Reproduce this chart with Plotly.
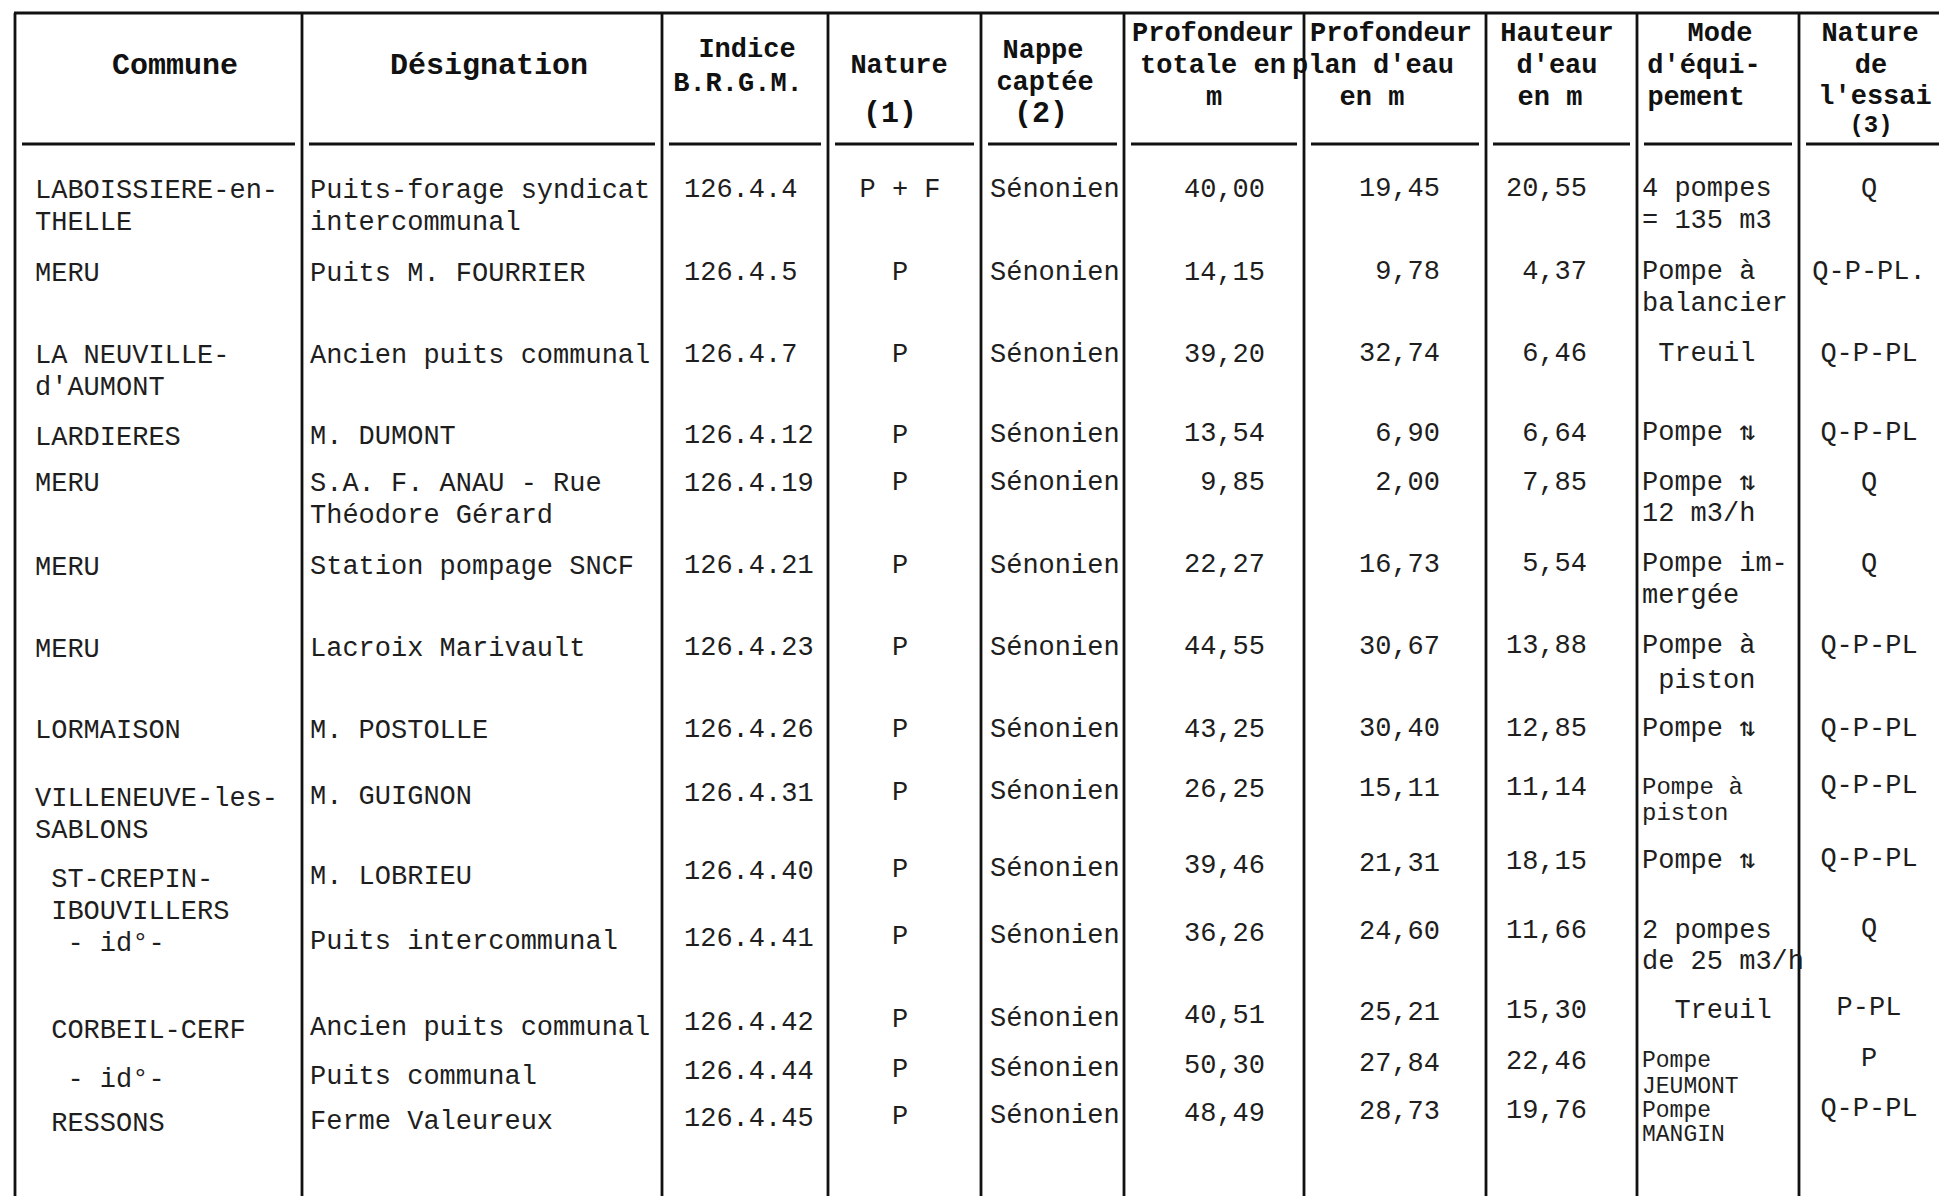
import plotly.graph_objects as go

# ---------------- data ----------------
commune = ["LABOISSIERE-en-<br>THELLE", "MERU", "LA NEUVILLE-<br>d'AUMONT", "LARDIERES",
           "MERU", "MERU", "MERU", "LORMAISON", "VILLENEUVE-les-<br>SABLONS",
           "\u00a0ST-CREPIN-<br>\u00a0IBOUVILLERS", "\u00a0\u00a0- id°-", "\u00a0CORBEIL-CERF",
           "\u00a0\u00a0- id°-", "\u00a0RESSONS"]
designation = ["Puits-forage syndicat<br>intercommunal", "Puits M. FOURRIER",
               "Ancien puits communal", "M. DUMONT", "S.A. F. ANAU - Rue<br>Théodore Gérard",
               "Station pompage SNCF", "Lacroix Marivault", "M. POSTOLLE", "M. GUIGNON",
               "M. LOBRIEU", "Puits intercommunal", "Ancien puits communal",
               "Puits communal", "Ferme Valeureux"]
indice = ["126.4.4", "126.4.5", "126.4.7", "126.4.12", "126.4.19", "126.4.21", "126.4.23",
          "126.4.26", "126.4.31", "126.4.40", "126.4.41", "126.4.42", "126.4.44", "126.4.45"]
nature = ["P + F", "P", "P", "P", "P", "P", "P", "P", "P", "P", "P", "P", "P", "P"]
nappe = ["Sénonien", "Sénonien", "Sénonien", "Sénonien", "Sénonien", "Sénonien", "Sénonien",
         "Sénonien", "Sénonien", "Sénonien", "Sénonien", "Sénonien", "Sénonien", "Sénonien"]
prof_totale = ["40,00", "14,15", "39,20", "13,54", "9,85", "22,27", "44,55", "43,25",
               "26,25", "39,46", "36,26", "40,51", "50,30", "48,49"]
prof_plan = ["19,45", "9,78", "32,74", "6,90", "2,00", "16,73", "30,67", "30,40",
             "15,11", "21,31", "24,60", "25,21", "27,84", "28,73"]
hauteur = ["20,55", "4,37", "6,46", "6,64", "7,85", "5,54", "13,88", "12,85",
           "11,14", "18,15", "11,66", "15,30", "22,46", "19,76"]
mode = ["4 pompes<br>= 135 m3", "Pompe à<br>balancier", "\u00a0Treuil", "Pompe ⇅",
        "Pompe ⇅<br>12 m3/h", "Pompe im-<br>mergée", "Pompe à<br>\u00a0piston", "Pompe ⇅",
        "Pompe à<br>piston", "Pompe ⇅", "2 pompes<br>de 25 m3/h", "\u00a0\u00a0Treuil",
        "Pompe<br>JEUMONT", "Pompe<br>MANGIN"]
essai = ["Q", "Q-P-PL.", "Q-P-PL", "Q-P-PL", "Q", "Q", "Q-P-PL", "Q-P-PL", "Q-P-PL",
         "Q-P-PL", "Q", "P-PL", "P", "Q-P-PL"]

header_lines = ["Commune", "Désignation", "Indice", "B.R.G.M.", "Nature", "(1)",
                "Nappe", "captée", "(2)", "Profondeur", "totale en", "m",
                "Profondeur", "plan d'eau", "en m", "Hauteur", "d'eau", "en m",
                "Mode", "d'équi-", "pement", "Nature", "de", "l'essai", "(3)"]

# ---------------- layout (positions / styles) ----------------
W, H = 1947, 1196
OFF = 8  # page body margin: data coordinate == screen pixel
col_edges = [15, 302, 662, 828, 981, 1124, 1304, 1486, 1637, 1799]
top_y = 13
head_sep_y = 144

# centre of first text line for each row, measured at two x positions (scan is skewed)
row_y_a = [191, 274, 356, 437, 484, 567, 649, 731, 796, 875, 941, 1026, 1075, 1121]
row_y_b = [189, 272, 354, 433, 483, 564, 646, 729, 786, 859, 929, 1008, 1059, 1109]
xa, xb = 470, 1870
line_gap = 32
mode_gap = [32, 32, 32, 32, 31, 32, 35, 32, 26, 32, 31, 32, 26, 24]
mode_size = [27, 27, 27, 27, 27, 27, 27, 27, 24, 27, 27, 27, 23, 23]

hdr_x = [175, 489, 747, 738, 899, 890, 1043, 1045, 1041, 1213, 1213, 1214,
         1391, 1373, 1372, 1557, 1557, 1550, 1720, 1704, 1696, 1870, 1871, 1875, 1871]
hdr_y = [66, 66, 50, 84, 66, 114, 51, 83, 114, 34, 66, 98,
         34, 66, 98, 34, 66, 98, 34, 66, 98, 34, 66, 97, 126]
hdr_size = [30, 30, 27, 27, 27, 30, 27, 27, 30, 27, 27, 27,
            27, 27, 27, 27, 27, 27, 27, 27, 27, 27, 27, 27, 24]

FS = 27
BODY_FONT = "Liberation Mono, Courier New, monospace"
TXT = "#1e1e1e"
LINE = "#111111"

# (values, anchor x, alignment, per-row line gaps, per-row font sizes)
columns = [
    (commune, 35, "left", None, None),
    (designation, 310, "left", None, None),
    (indice, 684, "left", None, None),
    (nature, 900, "center", None, None),
    (nappe, 990, "left", None, None),
    (prof_totale, 1265, "right", None, None),
    (prof_plan, 1440, "right", None, None),
    (hauteur, 1587, "right", None, None),
    (mode, 1642, "left", mode_gap, mode_size),
    (essai, 1869, "center", None, None),
]
pos_map = {"left": "middle right", "center": "middle center", "right": "middle left"}

fig = go.Figure()

for values, x0, align, gaps, sizes in columns:
    t = (x0 - xa) / (xb - xa)
    xs, ys, ts, fs = [], [], [], []
    for i, cell in enumerate(values):
        yc = row_y_a[i] + (row_y_b[i] - row_y_a[i]) * t
        g = gaps[i] if gaps else line_gap
        for k, part in enumerate(cell.split("<br>")):
            xs.append(x0)
            ys.append(yc + k * g)
            ts.append(part)
            fs.append(sizes[i] if sizes else FS)
    fig.add_trace(go.Scatter(
        x=xs, y=ys, text=ts, mode="text",
        textposition=pos_map[align],
        textfont=dict(family=BODY_FONT, size=fs, color=TXT),
        hoverinfo="skip", showlegend=False, cliponaxis=True,
    ))

fig.add_trace(go.Scatter(
    x=hdr_x, y=hdr_y, text=header_lines, mode="text", textposition="middle center",
    textfont=dict(family=BODY_FONT, size=hdr_size, color="#111111", weight="bold"),
    hoverinfo="skip", showlegend=False,
))

shapes = []
shapes.append(dict(type="line", x0=col_edges[0] - 1, x1=W + OFF, y0=top_y, y1=top_y,
                   line=dict(color=LINE, width=3), layer="below"))
for xe in col_edges:
    shapes.append(dict(type="line", x0=xe, x1=xe, y0=top_y, y1=H + OFF,
                       line=dict(color=LINE, width=2.8), layer="below"))
edges_ext = col_edges + [W + 20]
for i in range(len(col_edges)):
    shapes.append(dict(type="line", x0=edges_ext[i] + 7, x1=edges_ext[i + 1] - 7,
                       y0=head_sep_y, y1=head_sep_y,
                       line=dict(color=LINE, width=3), layer="below"))

fig.update_layout(
    width=W, height=H,
    margin=dict(l=0, r=0, t=0, b=0),
    paper_bgcolor="white", plot_bgcolor="white",
    xaxis=dict(range=[OFF, W + OFF], visible=False, fixedrange=True),
    yaxis=dict(range=[H + OFF, OFF], visible=False, fixedrange=True),
    shapes=shapes, showlegend=False,
)

fig.write_html("out.html")
